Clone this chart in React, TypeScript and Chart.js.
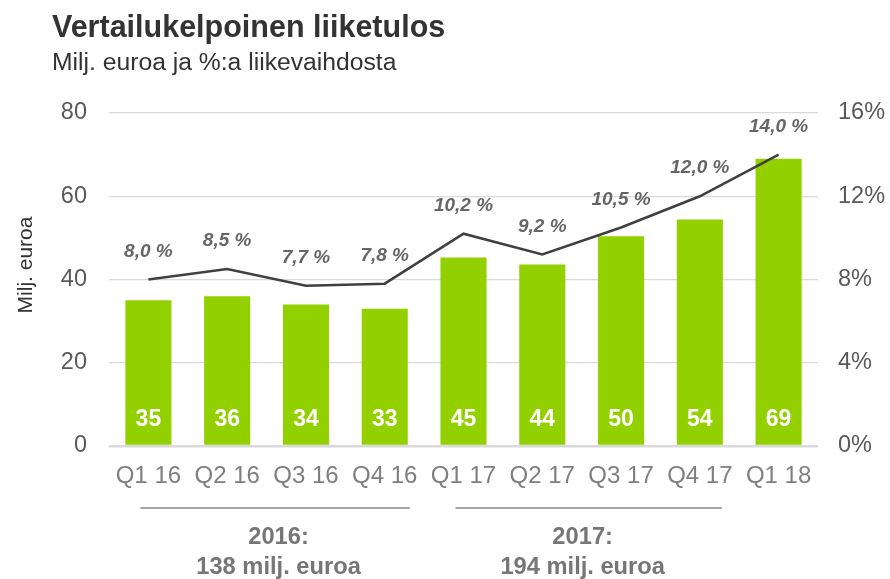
import React, { useEffect, useRef } from "react";
import { Chart, registerables } from "chart.js";

Chart.register(...registerables);

const categories = ["Q1 16", "Q2 16", "Q3 16", "Q4 16", "Q1 17", "Q2 17", "Q3 17", "Q4 17", "Q1 18"];
const operatingProfit = [35, 36, 34, 33, 45.3, 43.6, 50.4, 54.4, 69];
const marginPct = [8.0, 8.5, 7.7, 7.8, 10.2, 9.2, 10.5, 12.0, 14.0];
const yearGroups = [
  { from: 0, to: 3, title: "2016:", total: "138 milj. euroa" },
  { from: 4, to: 7, title: "2017:", total: "194 milj. euroa" },
];

const FONT = "'Liberation Sans', Arial, Helvetica, sans-serif";

const overlayPlugin = {
  id: "overlay",
  afterDatasetsDraw(chart: any) {
    const ctx = chart.ctx;
    ctx.save();
    const barMeta = chart.getDatasetMeta(0);
    ctx.font = `bold 23px ${FONT}`;
    ctx.fillStyle = "#ffffff";
    ctx.textAlign = "center";
    ctx.textBaseline = "middle";
    barMeta.data.forEach((el: any, i: number) => {
      ctx.fillText(String(Math.round(operatingProfit[i])), el.x, el.base - 25);
    });
    const lineMeta = chart.getDatasetMeta(1);
    ctx.font = `italic bold 19px ${FONT}`;
    ctx.fillStyle = "#666666";
    lineMeta.data.forEach((el: any, i: number) => {
      ctx.fillText(marginPct[i].toFixed(1).replace(".", ",") + " %", el.x, el.y - 28);
    });
    ctx.restore();
  },
  afterDraw(chart: any) {
    const ctx = chart.ctx;
    const xs = chart.scales.x;
    ctx.save();
    ctx.textAlign = "left";
    ctx.textBaseline = "alphabetic";
    ctx.fillStyle = "#333333";
    ctx.font = `bold 30.5px ${FONT}`;
    ctx.fillText("Vertailukelpoinen liiketulos", 52, 37);
    ctx.font = `24.7px ${FONT}`;
    ctx.fillText("Milj. euroa ja %:a liikevaihdosta", 52, 70);
    ctx.save();
    ctx.translate(26, 265);
    ctx.rotate(-Math.PI / 2);
    ctx.textAlign = "center";
    ctx.textBaseline = "middle";
    ctx.font = `21px ${FONT}`;
    ctx.fillStyle = "#333333";
    ctx.fillText("Milj. euroa", 0, 0);
    ctx.restore();
    yearGroups.forEach((g, gi) => {
      const x0 = xs.getPixelForValue(g.from);
      const x1 = xs.getPixelForValue(g.to);
      const left = x0 - 8;
      const right = x1 + (gi === 0 ? 25 : 22);
      ctx.strokeStyle = "#a6a6a6";
      ctx.lineWidth = 2;
      ctx.beginPath();
      ctx.moveTo(left, 508);
      ctx.lineTo(right, 508);
      ctx.stroke();
      const cx = (x0 + x1) / 2 + (gi === 0 ? 12 : 1);
      ctx.fillStyle = "#767676";
      ctx.font = `bold 23.7px ${FONT}`;
      ctx.textAlign = "center";
      ctx.textBaseline = "middle";
      ctx.fillText(g.title, cx, 537);
      ctx.fillText(g.total, cx, 567);
    });
    ctx.restore();
  },
};

export default function App() {
  const ref = useRef<HTMLCanvasElement>(null);
  useEffect(() => {
    if (!ref.current) return;
    const chart = new Chart(ref.current, {
      type: "bar",
      data: {
        labels: categories,
        datasets: [
          {
            type: "bar",
            label: "Liiketulos",
            data: operatingProfit,
            backgroundColor: "#92D000",
            barPercentage: 0.585,
            categoryPercentage: 1,
            yAxisID: "y",
            order: 2,
          },
          {
            type: "line",
            label: "%",
            data: marginPct,
            borderColor: "#404040",
            borderWidth: 2.5,
            pointRadius: 0,
            tension: 0,
            yAxisID: "y1",
            order: 1,
          } as any,
        ],
      },
      options: {
        animation: false,
        responsive: false,
        maintainAspectRatio: false,
        layout: { padding: { top: 113, left: 0, right: 0, bottom: 0 } },
        plugins: {
          legend: { display: false },
          tooltip: { enabled: false },
          title: { display: false },
        },
        scales: {
          x: {
            grid: { display: false, drawTicks: false },
            border: { display: false },
            ticks: { color: "#7f7f7f", font: { family: FONT, size: 24 }, padding: 16, maxRotation: 0, autoSkip: false },
            afterFit: (s: any) => { s.height = 133; },
          },
          y: {
            position: "left",
            min: 0,
            max: 80,
            ticks: { stepSize: 20, color: "#595959", font: { family: FONT, size: 23.5 }, padding: 22 },
            grid: {
              color: "#d9d9d9",
              lineWidth: (c: any) => (c.tick && c.tick.value === 0 ? 2.5 : 1.3),
              drawTicks: false,
            },
            border: { display: false },
            afterFit: (s: any) => { s.width = 109; },
          },
          y1: {
            position: "right",
            min: 0,
            max: 16,
            ticks: { stepSize: 4, color: "#595959", font: { family: FONT, size: 23.5 }, padding: 20, callback: (v: any) => v + "%" },
            grid: { display: false, drawTicks: false },
            border: { display: false },
            afterFit: (s: any) => { s.width = 72; },
          },
        },
      },
      plugins: [overlayPlugin],
    });
    return () => chart.destroy();
  }, []);
  return (
    <div style={{ position: "fixed", left: 0, top: 0, width: 890, height: 579, background: "#fff" }}>
      <canvas ref={ref} width={890} height={579} style={{ width: 890, height: 579, display: "block" }} />
    </div>
  );
}
